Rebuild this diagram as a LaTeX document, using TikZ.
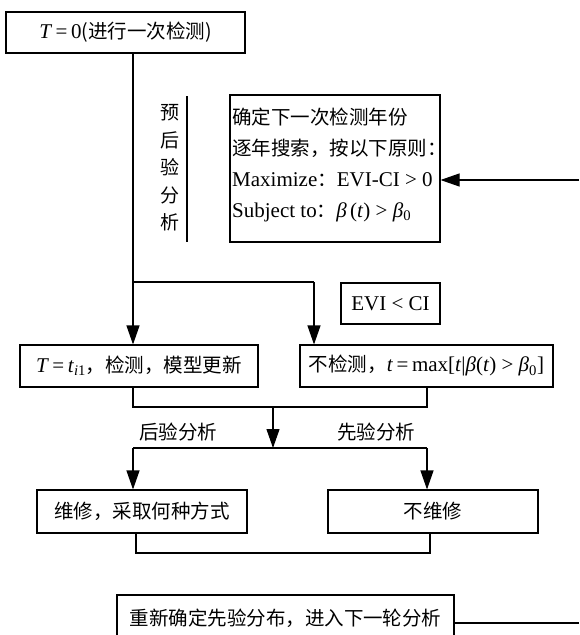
\documentclass[tikz,border=0pt]{standalone}
\usepackage{fontspec}
\setmainfont{Liberation Serif}
\newfontfamily\cjk{Noto Sans CJK SC}
\newcommand{\latsz}{\fontsize{21}{22}\selectfont}
\usetikzlibrary{arrows.meta}
\begin{document}
\begin{tikzpicture}[x=1pt,y=-1pt,
  box/.style={draw, line width=1.1pt, inner sep=0pt, font=\fontsize{19.5}{22}\selectfont},
  txt/.style={inner sep=0pt, font=\fontsize{19.5}{22}\selectfont},
  conn/.style={line width=1.1pt},
  arr/.style={line width=1.1pt, -{Triangle[length=19pt,width=13pt]}}]
\clip (0,0) rectangle (579,635);
% boxes
\node[box, minimum width=239pt, minimum height=41pt] (A) at (125.5,32.5) {{\latsz\textit{T}\,=\,0}{\cjk (进行一次检测)}};
\node[box, minimum width=210pt, minimum height=147pt] (B) at (335,168.5) {};
\node[txt, anchor=west] (b1) at (232,117) {\cjk 确定下一次检测年份};
\node[txt, anchor=west] (b2) at (232,148) {\cjk 逐年搜索，按以下原则：};
\node[txt, anchor=west] (b3) at (232,180) {{\latsz Maximize}{\cjk ：}{\latsz EVI-CI > 0}};
\node[txt, anchor=west] (b4) at (232,212) {{\latsz Subject to}{\cjk ：}{\latsz\textit{β}\,(\textit{t}) > \textit{β}\textsubscript{0}}};
\node[inner sep=0pt, align=center, font=\fontsize{19}{27.5}\selectfont\cjk] (vl) at (170,168) {预\\后\\验\\分\\析};
\node[box, minimum width=99pt, minimum height=41pt] (evi) at (390.5,303.5) {\latsz EVI < CI};
\node[box, minimum width=238pt, minimum height=42pt] (C) at (139,366) {{\latsz\textit{T}\,=\,\textit{t}\textsubscript{\textit{i}1}}{\cjk ，检测，模型更新}};
\node[box, minimum width=253pt, minimum height=42pt] (D) at (426.5,366) {{\cjk 不检测，}{\latsz\textit{t}\,=\,max[\textit{t}|\textit{β}(\textit{t}) > \textit{β}\textsubscript{0}]}};
\node[box, minimum width=210pt, minimum height=43pt] (E) at (142,511.5) {\cjk 维修，采取何种方式};
\node[box, minimum width=210pt, minimum height=43pt] (F) at (433,511.5) {\cjk 不维修};
\node[box, minimum width=337pt, minimum height=46pt] (G) at (285.5,618) {\cjk 重新确定先验分布，进入下一轮分析};
\node[txt] (lpost) at (178,432) {\cjk 后验分析};
\node[txt] (lprior) at (376,432) {\cjk 先验分析};
% bar beside vertical label
\coordinate (bar1) at (187,96);
\coordinate (bar2) at (187,242);
\draw[conn] (bar1) -- (bar2);
% connectors
\coordinate (a1) at (133,282);
\coordinate (a2) at (314,282);
\draw[conn] (A.south -| a1) -- (a1) -- (a2);
\draw[arr] (a1) -- (a1 |- C.north);
\draw[arr] (a2) -- (a2 |- D.north);
\coordinate (c1) at (133,407);
\coordinate (d1) at (427,407);
\draw[conn] (C.south -| c1) -- (c1) -- (d1) -- (D.south -| d1);
\coordinate (m1) at (273,407);
\coordinate (m2) at (273,448);
\draw[arr] (m1) -- (m2);
\coordinate (e1) at (133,448);
\coordinate (f1) at (427,448);
\draw[conn] (e1) -- (f1);
\draw[arr] (e1) -- (e1 |- E.north);
\draw[arr] (f1) -- (f1 |- F.north);
\coordinate (e2) at (136,553);
\coordinate (f2) at (430,553);
\draw[conn] (E.south -| e2) -- (e2) -- (f2) -- (F.south -| f2);
\coordinate (r1) at (579,623);
\coordinate (r2) at (579,180);
\draw[conn] (G.east |- r1) -- (r1);
\draw[arr] (r2) -- (B.east |- r2);
\end{tikzpicture}
\end{document}
